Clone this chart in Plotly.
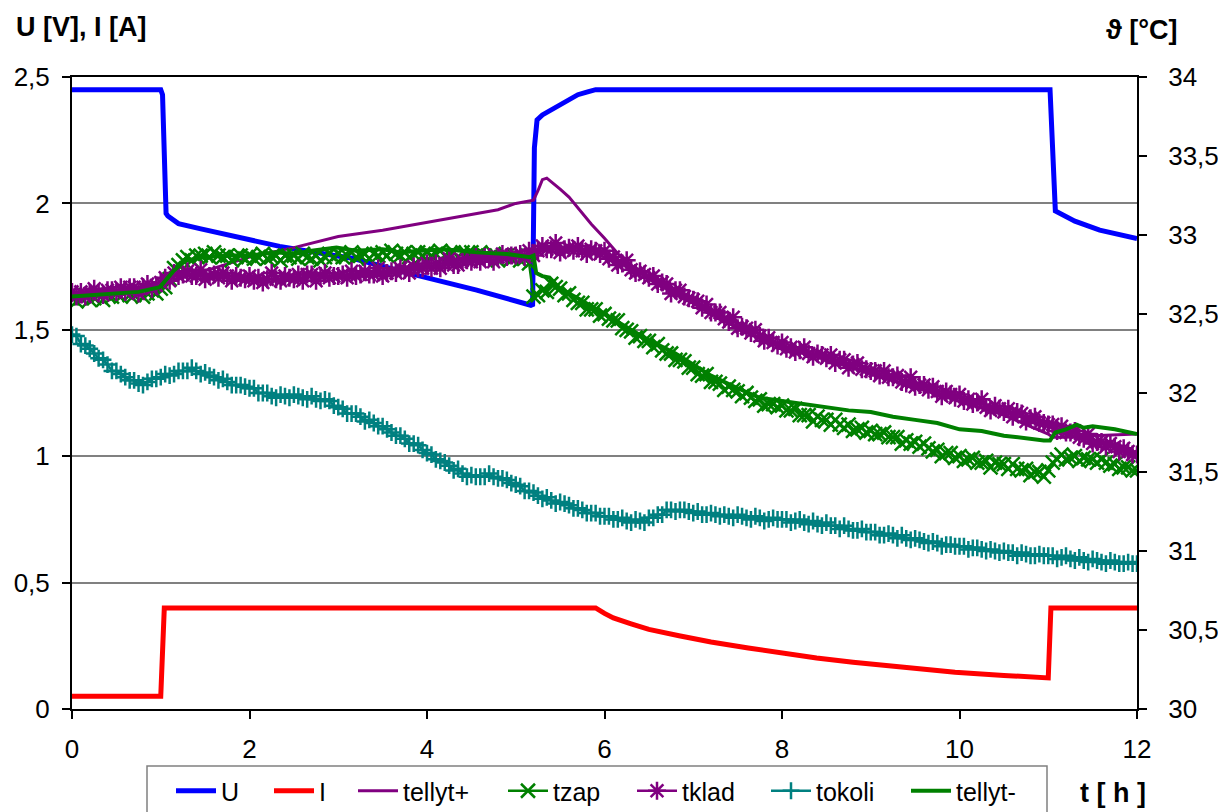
import numpy as np
import plotly.graph_objects as go

# ---------------- data ----------------
# Supply voltage U [V] and current I [A] (left axis)
t_U = [0, 1.0, 1.02, 1.04, 1.06, 1.08, 1.2, 1.44, 1.97, 2.34, 2.94, 3.16, 3.8, 4.56, 5.17, 5.19,
       5.21, 5.24, 5.3, 5.4, 5.5, 5.6, 5.7, 5.8, 5.9, 11.02, 11.04, 11.06, 11.08, 11.3, 11.58, 12.0]
U = [2.45, 2.45, 2.43, 2.20, 1.96, 1.95, 1.92, 1.90, 1.86, 1.83, 1.795, 1.783, 1.723, 1.657, 1.597, 1.60,
     2.22, 2.33, 2.35, 2.37, 2.39, 2.41, 2.43, 2.44, 2.45, 2.45, 2.30, 2.05, 1.97, 1.93, 1.894, 1.861]

t_I = [0, 1.0, 1.04, 5.9, 6.0, 6.1, 6.3, 6.5, 6.84, 7.2, 7.62, 8.0, 8.39, 8.8, 9.17, 9.55, 9.95,
       10.5, 11.0, 11.03, 12.0]
I = [0.05, 0.05, 0.40, 0.40, 0.378, 0.36, 0.337, 0.315, 0.29, 0.265, 0.241, 0.22, 0.202, 0.185,
     0.171, 0.158, 0.145, 0.133, 0.123, 0.40, 0.40]

# Temperatures [°C] (right axis)
t_ellyt_plus = [0, 0.5, 1.0, 1.05, 1.3, 1.6, 2.0, 2.5, 3.0, 3.5, 4.0, 4.5, 4.8, 5.0, 5.1, 5.2, 5.25,
                5.3, 5.35, 5.42, 5.5, 5.6, 5.7, 5.85, 6.0, 6.2, 6.5, 6.8, 7.4, 7.8, 8.5, 9.25, 10.0,
                10.5, 11.0, 11.05, 11.2, 11.5, 12.0]
tellyt_plus = [32.62, 32.65, 32.68, 32.69, 32.74, 32.79, 32.86, 32.92, 32.99, 33.03, 33.08, 33.13,
               33.16, 33.20, 33.21, 33.22, 33.28, 33.35, 33.36, 33.33, 33.29, 33.24, 33.17, 33.07,
               32.98, 32.85, 32.72, 32.63, 32.44, 32.33, 32.21, 32.08, 31.95, 31.86, 31.74, 31.72,
               31.72, 31.73, 31.74]

t_ellyt_minus = [0, 0.25, 0.5, 0.75, 0.99, 1.07, 1.14, 1.22, 1.29, 1.5, 1.74, 2.0, 2.3, 2.5, 2.7,
                 2.98, 3.2, 3.5, 3.7, 3.92, 4.2, 4.56, 4.9, 5.16, 5.2, 5.23, 5.3, 5.38, 5.5, 5.7,
                 6.0, 6.45, 6.8, 7.2, 7.5, 7.75, 8.0, 8.25, 8.5, 8.75, 9.0, 9.25, 9.5, 9.75, 10.0,
                 10.25, 10.5, 10.75, 10.95, 11.02, 11.08, 11.2, 11.32, 11.4, 11.5, 11.75, 12.0]
tellyt_minus = [32.61, 32.62, 32.63, 32.64, 32.67, 32.72, 32.77, 32.81, 32.84, 32.86, 32.87, 32.87,
                32.89, 32.88, 32.90, 32.92, 32.90, 32.91, 32.89, 32.90, 32.91, 32.89, 32.88, 32.86,
                32.87, 32.76, 32.74, 32.73, 32.66, 32.60, 32.50, 32.35, 32.25, 32.11, 32.03, 31.97,
                31.95, 31.93, 31.91, 31.89, 31.88, 31.85, 31.83, 31.81, 31.77, 31.76, 31.73, 31.71,
                31.70, 31.70, 31.75, 31.77, 31.80, 31.78, 31.79, 31.77, 31.74]

# Logged every 3 minutes (0.05 h), one row per hour
t_log = np.round(np.arange(241) * 0.05, 2)

tzap = [
    32.60, 32.58, 32.60, 32.62, 32.59, 32.60, 32.62, 32.59, 32.62, 32.61, 32.63, 32.61, 32.64, 32.62, 32.62, 32.64, 32.61, 32.63, 32.65, 32.63,
    32.66, 32.67, 32.72, 32.79, 32.81, 32.84, 32.86, 32.84, 32.87, 32.87, 32.88, 32.86, 32.89, 32.87, 32.86, 32.87, 32.84, 32.86, 32.87, 32.85,
    32.87, 32.85, 32.86, 32.88, 32.85, 32.86, 32.87, 32.84, 32.87, 32.86, 32.87, 32.85, 32.88, 32.86, 32.85, 32.87, 32.84, 32.86, 32.88, 32.86,
    32.88, 32.86, 32.87, 32.89, 32.86, 32.87, 32.88, 32.85, 32.88, 32.87, 32.89, 32.87, 32.90, 32.88, 32.87, 32.89, 32.86, 32.88, 32.89, 32.87,
    32.89, 32.87, 32.88, 32.90, 32.87, 32.88, 32.89, 32.86, 32.89, 32.88, 32.89, 32.87, 32.89, 32.87, 32.86, 32.88, 32.84, 32.86, 32.87, 32.85,
    32.87, 32.84, 32.85, 32.82, 32.61, 32.62, 32.65, 32.64, 32.69, 32.67, 32.66, 32.62, 32.63, 32.59, 32.57, 32.57, 32.53, 32.53, 32.53, 32.49,
    32.50, 32.47, 32.46, 32.46, 32.41, 32.40, 32.39, 32.35, 32.36, 32.33, 32.33, 32.29, 32.31, 32.27, 32.25, 32.25, 32.21, 32.21, 32.20, 32.16,
    32.16, 32.12, 32.11, 32.12, 32.07, 32.07, 32.06, 32.02, 32.04, 32.02, 32.01, 31.98, 32.00, 31.97, 31.95, 31.96, 31.92, 31.93, 31.93, 31.91,
    31.92, 31.89, 31.89, 31.90, 31.86, 31.86, 31.86, 31.82, 31.85, 31.83, 31.83, 31.80, 31.83, 31.80, 31.78, 31.80, 31.76, 31.77, 31.78, 31.75,
    31.76, 31.74, 31.74, 31.75, 31.72, 31.72, 31.72, 31.68, 31.70, 31.68, 31.69, 31.66, 31.68, 31.65, 31.63, 31.64, 31.60, 31.62, 31.62, 31.59,
    31.60, 31.57, 31.58, 31.59, 31.56, 31.56, 31.57, 31.53, 31.56, 31.55, 31.55, 31.52, 31.55, 31.52, 31.51, 31.52, 31.48, 31.50, 31.50, 31.47,
    31.51, 31.56, 31.58, 31.61, 31.58, 31.59, 31.60, 31.57, 31.59, 31.58, 31.58, 31.56, 31.58, 31.56, 31.54, 31.55, 31.52, 31.53, 31.53, 31.51, 31.51,
]

tklad = [
    32.64, 32.61, 32.64, 32.61, 32.63, 32.66, 32.63, 32.62, 32.65, 32.65, 32.64, 32.67, 32.64, 32.67, 32.67, 32.63, 32.67, 32.69, 32.66, 32.68,
    32.70, 32.73, 32.71, 32.76, 32.74, 32.75, 32.77, 32.74, 32.74, 32.78, 32.72, 32.74, 32.75, 32.73, 32.76, 32.74, 32.71, 32.74, 32.73, 32.72,
    32.74, 32.71, 32.73, 32.70, 32.72, 32.76, 32.72, 32.71, 32.74, 32.73, 32.72, 32.75, 32.71, 32.75, 32.75, 32.71, 32.74, 32.76, 32.73, 32.74,
    32.74, 32.75, 32.73, 32.77, 32.74, 32.75, 32.77, 32.75, 32.75, 32.79, 32.74, 32.76, 32.77, 32.76, 32.79, 32.78, 32.76, 32.80, 32.79, 32.79,
    32.82, 32.79, 32.82, 32.79, 32.82, 32.85, 32.81, 32.81, 32.84, 32.84, 32.83, 32.86, 32.83, 32.86, 32.86, 32.83, 32.86, 32.88, 32.86, 32.87,
    32.87, 32.88, 32.86, 32.90, 32.87, 32.90, 32.93, 32.91, 32.91, 32.95, 32.89, 32.91, 32.92, 32.90, 32.93, 32.90, 32.88, 32.91, 32.90, 32.88,
    32.90, 32.85, 32.86, 32.81, 32.82, 32.84, 32.78, 32.76, 32.77, 32.75, 32.73, 32.74, 32.69, 32.70, 32.69, 32.63, 32.65, 32.65, 32.61, 32.60,
    32.59, 32.58, 32.54, 32.56, 32.51, 32.51, 32.51, 32.47, 32.45, 32.48, 32.41, 32.42, 32.41, 32.38, 32.40, 32.36, 32.33, 32.35, 32.32, 32.30,
    32.32, 32.28, 32.29, 32.26, 32.27, 32.29, 32.25, 32.23, 32.25, 32.24, 32.22, 32.24, 32.19, 32.21, 32.21, 32.16, 32.18, 32.19, 32.15, 32.15,
    32.14, 32.14, 32.11, 32.14, 32.10, 32.10, 32.11, 32.07, 32.06, 32.10, 32.04, 32.05, 32.05, 32.02, 32.04, 32.01, 31.98, 32.01, 31.99, 31.97,
    31.99, 31.95, 31.96, 31.93, 31.94, 31.96, 31.91, 31.89, 31.92, 31.90, 31.88, 31.90, 31.85, 31.88, 31.87, 31.82, 31.84, 31.85, 31.81, 31.81,
    31.80, 31.80, 31.76, 31.79, 31.75, 31.75, 31.76, 31.72, 31.71, 31.74, 31.68, 31.69, 31.69, 31.66, 31.68, 31.66, 31.63, 31.65, 31.63, 31.61, 31.61,
]

tokoli = [
    32.37, 32.36, 32.31, 32.30, 32.28, 32.25, 32.22, 32.21, 32.18, 32.14, 32.14, 32.12, 32.10, 32.08, 32.08, 32.06, 32.05, 32.07, 32.09, 32.09,
    32.10, 32.12, 32.11, 32.12, 32.14, 32.14, 32.14, 32.16, 32.14, 32.12, 32.13, 32.11, 32.10, 32.08, 32.09, 32.07, 32.05, 32.05, 32.05, 32.04,
    32.03, 32.03, 32.00, 32.00, 32.00, 31.98, 31.97, 31.99, 31.98, 31.97, 31.99, 31.98, 31.97, 31.96, 31.98, 31.96, 31.95, 31.96, 31.95, 31.92,
    31.91, 31.90, 31.87, 31.87, 31.87, 31.85, 31.82, 31.83, 31.81, 31.79, 31.79, 31.77, 31.75, 31.73, 31.73, 31.71, 31.68, 31.68, 31.67, 31.64,
    31.62, 31.61, 31.58, 31.57, 31.56, 31.54, 31.51, 31.52, 31.49, 31.47, 31.48, 31.47, 31.47, 31.47, 31.49, 31.47, 31.46, 31.46, 31.45, 31.43,
    31.42, 31.41, 31.38, 31.38, 31.37, 31.35, 31.33, 31.34, 31.32, 31.30, 31.31, 31.30, 31.29, 31.27, 31.27, 31.26, 31.24, 31.24, 31.24, 31.22,
    31.22, 31.22, 31.20, 31.20, 31.21, 31.19, 31.18, 31.20, 31.19, 31.18, 31.21, 31.21, 31.23, 31.23, 31.26, 31.26, 31.25, 31.26, 31.26, 31.25,
    31.24, 31.25, 31.23, 31.23, 31.24, 31.23, 31.22, 31.23, 31.22, 31.21, 31.23, 31.22, 31.21, 31.20, 31.22, 31.21, 31.19, 31.20, 31.21, 31.20,
    31.20, 31.20, 31.18, 31.19, 31.20, 31.18, 31.17, 31.19, 31.17, 31.16, 31.18, 31.16, 31.16, 31.14, 31.16, 31.14, 31.13, 31.13, 31.14, 31.12,
    31.12, 31.12, 31.10, 31.10, 31.11, 31.10, 31.08, 31.10, 31.08, 31.07, 31.08, 31.07, 31.06, 31.05, 31.06, 31.05, 31.03, 31.04, 31.04, 31.03,
    31.03, 31.03, 31.01, 31.02, 31.02, 31.01, 31.00, 31.01, 31.00, 30.99, 31.00, 30.99, 30.99, 30.97, 30.99, 30.98, 30.97, 30.97, 30.98, 30.97,
    30.97, 30.97, 30.95, 30.96, 30.97, 30.95, 30.94, 30.96, 30.94, 30.93, 30.95, 30.94, 30.93, 30.92, 30.94, 30.93, 30.92, 30.92, 30.93, 30.92, 30.92,
]

BLUE = "#0000FF"
RED = "#FF0000"
PURPLE = "#800080"
GREEN = "#008000"
TEAL = "#008080"
FONT = "Arial, Liberation Sans, sans-serif"

fig = go.Figure()

fig.add_trace(go.Scatter(x=t_U, y=U, name="U", mode="lines", legend="legend",
                         line=dict(color=BLUE, width=5)))
fig.add_trace(go.Scatter(x=t_I, y=I, name="I", mode="lines", legend="legend2",
                         line=dict(color=RED, width=5)))
fig.add_trace(go.Scatter(x=t_ellyt_plus, y=tellyt_plus, name="tellyt+", mode="lines",
                         legend="legend3", line=dict(color=PURPLE, width=3), yaxis="y2"))
fig.add_trace(go.Scatter(x=t_log, y=tzap, name="tzap", mode="lines+markers", legend="legend4",
                         line=dict(color=GREEN, width=2.5),
                         marker=dict(symbol="x-thin", size=14, color=GREEN,
                                     line=dict(color=GREEN, width=2.5)),
                         yaxis="y2"))
fig.add_trace(go.Scatter(x=t_log, y=tklad, name="tklad", mode="lines+markers", legend="legend5",
                         line=dict(color=PURPLE, width=2.5),
                         marker=dict(symbol="asterisk", size=15, color=PURPLE,
                                     line=dict(color=PURPLE, width=2.5)),
                         yaxis="y2"))
fig.add_trace(go.Scatter(x=t_log, y=tokoli, name="tokoli", mode="lines+markers", legend="legend6",
                         line=dict(color=TEAL, width=2.5),
                         marker=dict(symbol="cross-thin", size=12, color=TEAL,
                                     line=dict(color=TEAL, width=2.5)),
                         yaxis="y2"))
fig.add_trace(go.Scatter(x=t_ellyt_minus, y=tellyt_minus, name="tellyt-", mode="lines",
                         legend="legend7", line=dict(color=GREEN, width=4), yaxis="y2"))

# one legend box per entry, laid out in a single row under the plot
entry_left = [171, 269, 353, 503, 632, 766, 906]
legends = {}
for k, xl in enumerate(entry_left):
    key = "legend" if k == 0 else f"legend{k + 1}"
    legends[key] = dict(orientation="h", xref="container", yref="container",
                        x=xl / 1218, y=1 - 768 / 812, xanchor="left", yanchor="top",
                        borderwidth=0, font=dict(size=25), itemwidth=40,
                        bgcolor="rgba(0,0,0,0)")

fig.update_layout(
    width=1218, height=812,
    margin=dict(l=72, r=81, t=77, b=103, autoexpand=False),
    paper_bgcolor="white", plot_bgcolor="white",
    separators=", ",
    font=dict(family=FONT, size=26, color="black"),
    showlegend=True,
    **legends,
    xaxis=dict(range=[0, 12], tickvals=[0, 2, 4, 6, 8, 10, 12], showgrid=False, zeroline=False,
               showline=True, linecolor="black", linewidth=2, mirror=True,
               ticks="outside", ticklen=8, tickcolor="black", tickwidth=1.5,
               ticklabelstandoff=8, tickfont=dict(size=26)),
    yaxis=dict(range=[0, 2.5], tickvals=[0, 0.5, 1, 1.5, 2, 2.5], showgrid=True,
               gridcolor="#808080", gridwidth=1.5, zeroline=False,
               showline=True, linecolor="black", linewidth=2,
               ticks="outside", ticklen=8, tickcolor="black", tickwidth=1.5,
               ticklabelstandoff=7, tickfont=dict(size=26)),
    yaxis2=dict(range=[30, 34], tickvals=[30, 30.5, 31, 31.5, 32, 32.5, 33, 33.5, 34],
                overlaying="y", side="right", showgrid=False, zeroline=False,
                showline=True, linecolor="black", linewidth=2,
                ticks="outside", ticklen=8, tickcolor="black", tickwidth=1.5,
                ticklabelstandoff=16, tickfont=dict(size=26)),
    # frame around the legend entries
    shapes=[dict(type="rect", xref="paper", yref="paper",
                 x0=(147 - 72) / 1065, x1=(1047 - 72) / 1065,
                 y0=(709 - 766) / 632, y1=(709 - 830) / 632,
                 line=dict(color="#808080", width=1.5), fillcolor="rgba(0,0,0,0)")],
    annotations=[
        dict(text="<b>U [V], I [A]</b>", xref="paper", yref="paper", x=-0.0545, y=1.079,
             xanchor="left", yanchor="middle", showarrow=False, font=dict(size=27)),
        dict(text="<b>ϑ [°C]</b>", xref="paper", yref="paper", x=1.0047, y=1.074,
             xanchor="center", yanchor="middle", showarrow=False, font=dict(size=27)),
        dict(text="<b>t [ h ]</b>", xref="paper", yref="paper", x=0.9775, y=-0.133,
             xanchor="center", yanchor="middle", showarrow=False, font=dict(size=27)),
    ],
)

fig.write_html("out.html")
